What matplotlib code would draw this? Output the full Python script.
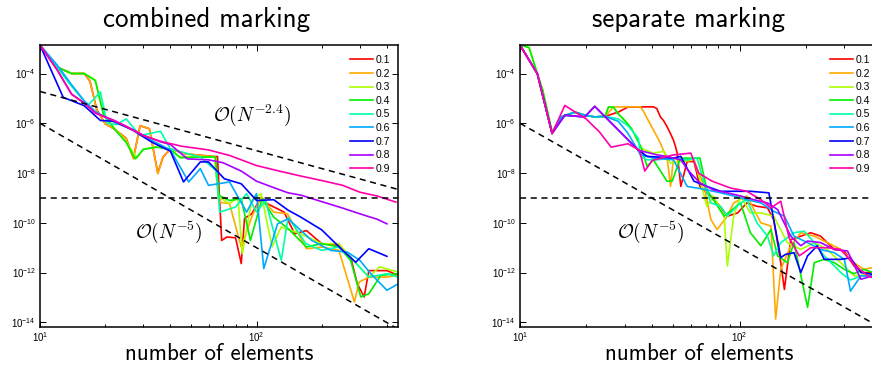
import matplotlib
matplotlib.use("Agg")
import matplotlib.pyplot as plt
from matplotlib.ticker import NullLocator, FixedLocator, LogLocator

plt.rcParams['font.family'] = ['Liberation Sans', 'DejaVu Sans']

labels = ["0.1", "0.2", "0.3", "0.4", "0.5", "0.6", "0.7", "0.8", "0.9"]
colors = ["#ff0000", "#ffaa00", "#aaff00", "#00ee00", "#00ffaa",
          "#00aaff", "#0000ff", "#aa00ff", "#ff00aa"]

# ---------------- combined marking ----------------
comb_n_01 = [10, 12, 14, 16, 17, 18.3, 20, 22, 25, 27, 29, 32, 35, 37, 40, 47, 64, 66, 69, 73,
             80, 85, 88, 95, 105, 112, 134, 150, 170, 200, 240, 272, 292, 314, 330, 400, 450]
comb_e_01 = [1.4e-3, 1.8e-4, 1.0e-4, 1.0e-4, 5.0e-5, 3.5e-6, 9.5e-7, 6.0e-7, 2.5e-7, 4.0e-8,
             8.0e-7, 6.0e-7, 1.0e-8, 4.4e-8, 9.3e-8, 5.9e-8, 4.6e-8, 4.6e-8, 1.95e-11, 2.7e-11,
             2.5e-11, 2.3e-12, 1.5e-10, 2.3e-10, 1.07e-9, 5.9e-10, 2.7e-10, 3.6e-11, 4.9e-11,
             1.45e-11, 1.25e-11, 4.2e-12, 3.5e-13, 1.05e-13, 1.2e-12, 1.2e-12, 7.8e-13]

comb_n_02 = [10, 12, 14, 16, 17, 18.3, 20, 22, 25, 27, 29, 32, 35, 37, 40, 47, 64, 67, 75, 85,
             95, 105, 120, 139, 150, 170, 200, 240, 283, 298, 330, 400, 450]
comb_e_02 = [1.4e-3, 1.8e-4, 1.0e-4, 1.0e-4, 5.2e-5, 3.2e-6, 9.5e-7, 6.0e-7, 2.4e-7, 3.7e-8,
             8.1e-7, 6.0e-7, 9.3e-9, 4.4e-8, 9.3e-8, 5.9e-8, 4.5e-8, 6.8e-10, 5.9e-10, 1.07e-11,
             1.7e-10, 1.07e-9, 2.7e-10, 2.3e-10, 6.8e-11, 9.1e-12, 1.07e-11, 7.8e-12, 6.6e-14,
             4.2e-13, 6.6e-13, 6.6e-13, 7.8e-13]

comb_n_03 = [10, 12, 14, 16, 18, 19.6, 22, 25, 28, 30, 35, 40, 44, 55, 64, 67, 75, 82, 86, 95,
             105, 118, 130, 160, 200, 240, 280, 330, 370, 450]
comb_e_03 = [1.4e-3, 1.8e-4, 1.0e-4, 1.0e-4, 5.5e-5, 2.6e-6, 6.5e-7, 1.8e-7, 4.0e-8, 9.0e-8,
             1.2e-7, 9.0e-8, 4.5e-8, 4.6e-8, 4.4e-8, 1.07e-9, 5.9e-10, 1.07e-9, 5.8e-12, 7.9e-10,
             1.5e-9, 1.07e-11, 6.8e-11, 3.6e-11, 1.45e-11, 1.45e-11, 3.1e-12, 6.6e-13, 1.7e-12,
             1.05e-12]

comb_n_04 = [10, 12, 14, 16, 18, 19.6, 22, 25, 27.5, 30, 34.6, 40, 44.5, 55, 64.6, 67, 75, 85,
             93.7, 106, 120, 140, 170, 200, 240, 272, 303, 330, 375, 450]
comb_e_04 = [1.4e-3, 1.8e-4, 1.0e-4, 1.0e-4, 5.2e-5, 2.4e-6, 6.0e-7, 1.7e-7, 3.7e-8, 8.9e-8,
             1.1e-7, 8.9e-8, 4.1e-8, 4.4e-8, 4.4e-8, 1.26e-9, 7.9e-10, 9.3e-10, 1.95e-11,
             9.3e-10, 1.7e-10, 5.8e-11, 1.07e-11, 1.45e-11, 1.07e-11, 3.1e-12, 1.05e-13,
             1.4e-13, 7.8e-13, 9.0e-13]

comb_n_05 = [10, 12, 13.5, 16.6, 19, 20.4, 22.6, 25, 29, 36, 40, 55, 65, 67.6, 80, 90, 100,
             110, 130, 140, 169, 200, 240, 280, 330, 400, 450]
comb_e_05 = [1.4e-3, 1.8e-4, 4.5e-5, 5.1e-6, 1.8e-5, 1.0e-6, 8.9e-7, 1.5e-6, 3.2e-7, 4.8e-7,
             9.3e-8, 4.4e-8, 1.26e-8, 2.7e-10, 4.3e-10, 1.5e-9, 2.7e-10, 7.9e-10, 3.1e-12,
             1.7e-10, 1.45e-11, 7.8e-12, 1.07e-11, 3.1e-12, 6.6e-13, 9.0e-13, 6.6e-13]

comb_n_06 = [10, 12, 14, 16, 18, 22, 27, 33, 40, 48.6, 55, 60, 75, 90, 100, 108, 125, 140, 180,
             220, 263, 300, 337, 400, 450]
comb_e_06 = [1.4e-3, 2.2e-4, 3.5e-5, 8.0e-6, 3.0e-6, 1.1e-6, 5.5e-7, 2.0e-7, 8.5e-8, 4.4e-9,
             1.5e-8, 3.2e-9, 4.4e-9, 2.7e-10, 1.5e-9, 1.45e-12, 9.1e-11, 1.45e-10, 1.95e-11,
             7.8e-12, 6.6e-12, 3.1e-12, 9.0e-13, 1.95e-13, 3.5e-13]

comb_n_07 = [10, 12.8, 16, 19, 22, 27, 33, 40, 46, 55, 60, 71, 85, 100, 120, 140, 160, 200,
             250, 287, 330, 400]
comb_e_07 = [1.4e-3, 1.1e-5, 5.1e-6, 1.3e-6, 1.2e-6, 5.1e-7, 1.7e-7, 7.6e-8, 4.4e-9, 2.8e-8,
             2.8e-8, 5.9e-9, 3.7e-9, 7.9e-10, 8.5e-10, 3.2e-10, 1.7e-10, 5.2e-11, 7.8e-12,
             2.6e-12, 9.1e-12, 4.5e-12]

comb_n_08 = [10, 12, 14, 16, 18, 22, 25, 30, 36, 40, 48, 60, 70, 85, 100, 120, 140, 160, 200,
             250, 300, 360, 400]
comb_e_08 = [1.4e-3, 1.4e-4, 1.5e-5, 6.5e-6, 2.6e-6, 1.3e-6, 7.6e-7, 3.3e-7, 1.8e-7, 1.4e-7,
             3.7e-8, 3.4e-8, 2.6e-8, 1.2e-8, 4.7e-9, 2.6e-9, 1.6e-9, 1.3e-9, 7.1e-10, 3.9e-10,
             2.3e-10, 1.4e-10, 9.1e-11]

comb_n_09 = [10, 12, 14, 16, 18, 22, 25, 30, 36, 45, 60, 75, 100, 130, 160, 200, 250, 300,
             360, 440]
comb_e_09 = [1.4e-3, 1.4e-4, 1.45e-5, 6.5e-6, 2.6e-6, 1.26e-6, 7.4e-7, 3.2e-7, 1.9e-7, 1.2e-7,
             8.5e-8, 5.1e-8, 2.0e-8, 1.15e-8, 7.6e-9, 5.0e-9, 3.2e-9, 1.7e-9, 1.2e-9, 6.8e-10]

# ---------------- separate marking ----------------
sep_n_01 = [10, 12, 14, 15.4, 17.8, 19.8, 21.9, 24.4, 28, 31, 40.5, 42, 43.6, 45, 46.7, 48,
            50, 51, 52, 54, 57.7, 62, 66, 71, 79, 88, 98, 108, 120, 134, 143, 154, 160, 171,
            190, 211, 234, 270, 300, 332, 368, 405, 450]
sep_e_01 = [1.4e-3, 9.7e-5, 3.9e-7, 1.8e-6, 2.8e-6, 2.1e-6, 1.8e-6, 1.9e-6, 2.8e-6, 4.5e-6,
            4.6e-6, 3.9e-6, 1.8e-6, 1.3e-6, 7.4e-7, 4.6e-7, 2.1e-7, 1.2e-7, 6.3e-8, 2.9e-9,
            2.9e-8, 2.9e-8, 2.9e-9, 1.6e-9, 6.3e-10, 1.85e-10, 2.5e-10, 6.3e-10, 4.6e-10,
            4.0e-10, 1.35e-10, 2.5e-12, 2.1e-13, 2.1e-11, 2.9e-11, 4.0e-11, 2.9e-11, 8.5e-12,
            7.4e-12, 1.85e-12, 1.0e-12, 1.0e-12, 9.0e-13]

sep_n_02 = [10, 12, 14, 15.4, 17.8, 19.8, 21.9, 24.4, 26.6, 31, 35.4, 36.5, 37.9, 39, 40.5, 42,
            43.6, 45, 46.7, 48.5, 50, 54, 62, 69, 74, 79, 88, 94, 108, 125, 139, 146, 154, 171,
            190, 219, 251, 289, 332, 368, 405, 450]
sep_e_02 = [1.4e-3, 9.7e-5, 3.9e-7, 1.8e-6, 2.8e-6, 2.1e-6, 1.8e-6, 1.9e-6, 4.5e-6, 4.6e-6,
            4.6e-6, 3.0e-6, 1.6e-6, 1.0e-6, 5.4e-7, 3.0e-7, 1.6e-7, 8.0e-8, 4.6e-8, 2.9e-9,
            4.0e-8, 2.9e-8, 3.4e-8, 2.9e-9, 1.35e-10, 5.4e-11, 1.85e-10, 6.3e-10, 1.2e-9,
            1.0e-10, 7.4e-11, 1.35e-14, 1.35e-12, 1.2e-11, 4.0e-11, 2.9e-11, 1.6e-11, 8.5e-12,
            2.5e-12, 1.35e-12, 1.6e-12, 1.3e-12]

sep_n_03 = [10, 11, 12, 12.7, 14, 15.4, 17.8, 19.8, 21.9, 24.4, 25.3, 26.6, 28, 30, 32.2, 34.6,
            35.8, 40.5, 45, 48.5, 54, 62, 66, 71, 76, 85, 88, 94, 101, 112, 125, 143, 165, 190,
            219, 251, 289, 332, 405, 450]
sep_e_03 = [1.4e-3, 1.1e-3, 9.7e-5, 2.1e-5, 4.5e-7, 1.8e-6, 2.8e-6, 2.1e-6, 1.8e-6, 1.9e-6,
            4.5e-6, 4.5e-6, 2.4e-6, 1.3e-6, 6.1e-7, 1.8e-7, 9.7e-8, 6.3e-8, 7.4e-8, 2.5e-8,
            2.9e-8, 3.4e-8, 5.4e-9, 4.6e-10, 1.2e-9, 1.85e-10, 1.85e-12, 1.85e-10, 1.2e-9,
            2.5e-10, 2.5e-10, 1.85e-10, 1.6e-11, 8.5e-12, 1.6e-11, 8.5e-12, 2.5e-12, 7.4e-13,
            8.5e-13, 9.0e-13]

sep_n_04 = [10, 11, 12, 12.7, 14, 15.4, 17.8, 19.8, 21.9, 24.4, 25.3, 26.6, 28, 30, 32.2, 34.6,
            35.8, 37.9, 40.5, 46.7, 49.3, 53.8, 66, 71, 76, 85, 101, 112, 125, 139, 149, 165,
            177, 204, 219, 243, 270, 300, 332, 368, 405, 450]
sep_e_04 = [1.4e-3, 1.1e-3, 9.7e-5, 2.1e-5, 4.5e-7, 1.8e-6, 2.8e-6, 2.1e-6, 1.8e-6, 1.9e-6,
            4.5e-6, 4.5e-6, 2.4e-6, 1.3e-6, 6.1e-7, 1.8e-7, 9.7e-8, 1.85e-8, 3.4e-8, 4.7e-9,
            4.7e-9, 4.0e-8, 4.0e-8, 2.1e-9, 8.5e-10, 1.85e-10, 6.3e-10, 4.0e-11, 1.2e-11,
            5.4e-11, 4.7e-12, 2.5e-12, 1.6e-11, 4.0e-14, 2.5e-12, 3.4e-12, 2.5e-12, 1.35e-12,
            9.0e-13, 1.35e-12, 1.0e-12, 9.0e-13]

sep_n_05 = [10, 12, 14, 15.4, 17.8, 19.8, 21.9, 24.4, 28, 31, 34.6, 35.4, 37.9, 42, 50, 57.7,
            64, 69, 74, 82, 88, 94, 101, 108, 120, 134, 143, 154, 177, 197, 219, 243, 270, 289,
            320, 357, 405, 450]
sep_e_05 = [1.4e-3, 9.7e-5, 3.9e-7, 1.8e-6, 2.8e-6, 2.1e-6, 1.8e-6, 1.9e-6, 1.5e-6, 8.0e-7,
            2.5e-7, 4.6e-8, 3.4e-8, 3.4e-8, 4.0e-8, 3.4e-8, 4.0e-8, 4.0e-9, 6.3e-10, 4.6e-10,
            1.85e-10, 3.4e-10, 6.3e-10, 8.5e-10, 1.0e-10, 2.9e-11, 4.7e-12, 1.6e-11, 4.0e-11,
            4.6e-11, 1.6e-11, 4.7e-12, 1.85e-12, 1.0e-12, 5.0e-13, 7.4e-13, 7.4e-13, 7.0e-13]

sep_n_06 = [10, 12, 14, 15.4, 17.8, 19.8, 21.9, 24.4, 28, 31, 35.4, 40.5, 50, 57.7, 64, 71, 82,
            94, 108, 125, 143, 160, 177, 204, 234, 270, 300, 320, 357, 405, 450]
sep_e_06 = [1.4e-3, 9.7e-5, 3.9e-7, 1.8e-6, 2.8e-6, 2.1e-6, 1.8e-6, 1.9e-6, 1.2e-6, 4.0e-7,
            5.4e-8, 4.0e-8, 3.4e-8, 2.9e-9, 2.5e-9, 2.1e-9, 1.6e-9, 1.2e-9, 8.5e-10, 6.3e-10,
            2.9e-10, 1.85e-10, 2.9e-11, 1.6e-11, 8.5e-12, 6.3e-12, 3.4e-12, 1.8e-13, 7.4e-13,
            7.4e-13, 7.0e-13]

sep_n_07 = [10, 12, 14, 16, 19.7, 21.9, 34.6, 37.9, 50, 54, 62, 71, 82, 112, 136, 143, 154, 162,
            177, 190, 204, 226, 243, 289, 320, 357, 405, 450]
sep_e_07 = [1.4e-3, 9.7e-5, 3.9e-7, 2.1e-6, 1.8e-6, 4.8e-6, 8.3e-8, 4.7e-8, 4.0e-8, 4.7e-8,
            4.7e-9, 2.9e-9, 1.85e-9, 1.85e-9, 1.6e-9, 1.35e-10, 4.0e-12, 5.4e-12, 6.3e-12,
            1.0e-12, 4.7e-12, 1.2e-11, 3.4e-12, 3.4e-12, 3.9e-12, 1.0e-12, 8.5e-13, 8.0e-13]

sep_n_08 = [10, 12, 14, 16, 19.7, 21.9, 34.6, 42, 47, 54, 58, 66, 76, 88, 101, 116, 134, 149,
            171, 190, 204, 234, 270, 310, 357, 405, 450]
sep_e_08 = [1.4e-3, 9.7e-5, 3.9e-7, 2.1e-6, 1.8e-6, 4.8e-6, 8.3e-8, 5.4e-8, 4.6e-8, 3.4e-8,
            1.35e-8, 4.0e-9, 2.1e-9, 1.6e-9, 1.2e-9, 8.5e-10, 6.3e-10, 3.4e-10, 2.9e-11,
            1.2e-11, 1.85e-11, 1.6e-11, 8.5e-12, 7.4e-12, 5.4e-13, 7.4e-13, 6.0e-13]

sep_n_09 = [10, 12, 14, 16, 20, 23, 26, 31, 35, 37, 40, 50, 60, 65, 75, 91, 108, 125, 139, 154,
            168, 187, 211, 251, 289, 332, 383, 450]
sep_e_09 = [1.4e-3, 9.7e-5, 3.9e-7, 5.2e-6, 1.5e-6, 4.5e-7, 1.1e-7, 1.5e-7, 8.3e-8, 1.2e-8,
            3.2e-8, 5.4e-8, 6.3e-8, 1.0e-8, 4.7e-9, 2.5e-9, 1.85e-9, 8.5e-10, 4.0e-10, 7.4e-10,
            2.5e-11, 4.7e-12, 1.0e-11, 1.0e-11, 8.5e-12, 2.1e-12, 7.4e-13, 4.5e-13]

# reference rates and tolerance
ref_n = [10, 450]
rate24_e = [1.9e-5, 2.2e-9]
rate5_e = [1.0e-6, 5.4e-15]
tol = 1e-9

comb_series = [(comb_n_01, comb_e_01), (comb_n_02, comb_e_02), (comb_n_03, comb_e_03),
               (comb_n_04, comb_e_04), (comb_n_05, comb_e_05), (comb_n_06, comb_e_06),
               (comb_n_07, comb_e_07), (comb_n_08, comb_e_08), (comb_n_09, comb_e_09)]
sep_series = [(sep_n_01, sep_e_01), (sep_n_02, sep_e_02), (sep_n_03, sep_e_03),
              (sep_n_04, sep_e_04), (sep_n_05, sep_e_05), (sep_n_06, sep_e_06),
              (sep_n_07, sep_e_07), (sep_n_08, sep_e_08), (sep_n_09, sep_e_09)]

W, H = 872, 367
fig = plt.figure(figsize=(W / 100, H / 100), dpi=100)

ax_l = fig.add_axes([40 / W, 1 - 327 / H, 358 / W, 282 / H])
ax_r = fig.add_axes([520 / W, 1 - 327 / H, 363 / W, 282 / H])

dash = (0, (4, 3))


def style_axes(ax):
    ax.set_xscale('log')
    ax.set_yscale('log')
    ax.set_xlim(10, 450)
    ax.set_ylim(6.5e-15, 1.4e-3)
    ax.yaxis.set_major_locator(FixedLocator([1e-14, 1e-12, 1e-10, 1e-8, 1e-6, 1e-4]))
    ax.yaxis.set_minor_locator(NullLocator())
    ax.xaxis.set_major_locator(FixedLocator([10, 100]))
    ax.xaxis.set_minor_locator(LogLocator(base=10, subs=range(2, 10)))
    ax.tick_params(which='both', direction='in', top=True, right=True,
                   labelsize=7, width=0.7)
    ax.tick_params(axis='x', pad=2)
    ax.tick_params(axis='y', pad=3)
    ax.tick_params(which='major', length=4)
    ax.tick_params(which='minor', length=2.5)
    for s in ax.spines.values():
        s.set_linewidth(1.1)


for ax, series in ((ax_l, comb_series), (ax_r, sep_series)):
    style_axes(ax)
    for (n, e), lab, c in zip(series, labels, colors):
        ax.plot(n, e, color=c, lw=1.2, label=lab)
    ax.plot(ref_n, rate5_e, color='black', lw=1.1, ls=dash)
    ax.axhline(tol, color='black', lw=1.1, ls=dash)

ax_l.plot(ref_n, rate24_e, color='black', lw=1.1, ls=dash)

ann_kw = dict(math_fontfamily='cm', fontsize=14, ha='left', va='center')
ax_l.text(63, 2.0e-6, r'$\mathcal{O}(N^{-2.4})$', **ann_kw)
ax_l.text(27.5, 4.0e-11, r'$\mathcal{O}(N^{-5})$', **ann_kw)
ax_r.text(27.7, 4.0e-11, r'$\mathcal{O}(N^{-5})$', **ann_kw)

leg_kw = dict(loc='upper left', frameon=False, fontsize=7.5, handlelength=2.2,
              handletextpad=0.3, labelspacing=0.35, borderaxespad=0.0, borderpad=0.0)
ax_l.legend(bbox_to_anchor=(0.866, 0.965), **leg_kw)
ax_r.legend(bbox_to_anchor=(0.854, 0.965), **leg_kw)

title_kw = dict(fontsize=19.5, family='cmss10', ha='center', va='baseline')
fig.text(207 / W, 1 - 27 / H, 'combined marking', **title_kw)
fig.text(688 / W, 1 - 27 / H, 'separate marking', **title_kw)
label_kw = dict(fontsize=16.5, family='cmss10', ha='center', va='baseline')
fig.text(219 / W, 1 - 360 / H, 'number of elements', **label_kw)
fig.text(699 / W, 1 - 360 / H, 'number of elements', **label_kw)

fig.savefig('out.png', dpi=100)
